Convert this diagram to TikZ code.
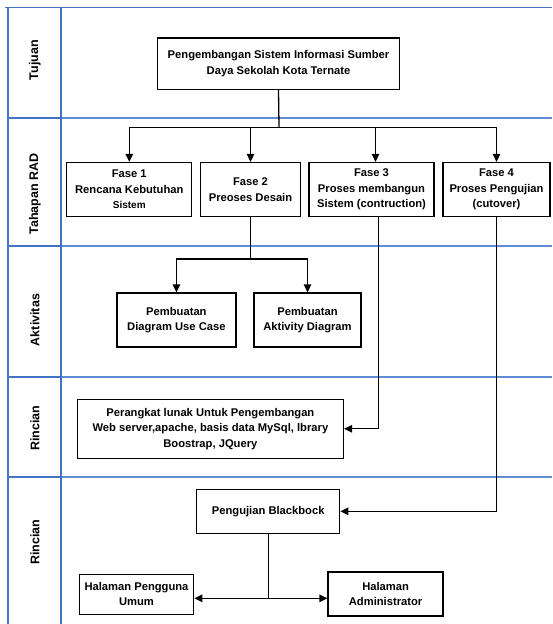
\documentclass[tikz,border=0pt]{standalone}
\usepackage{fontspec}
\setmainfont{Liberation Sans}
\usetikzlibrary{arrows.meta}
\definecolor{lane}{RGB}{68,114,196}
\definecolor{lanelt}{RGB}{96,140,212}
\tikzset{
  box/.style={draw=black, line width=1.3pt, fill=white, align=center, inner sep=0pt,
    font=\fontsize{11.2}{15.5}\selectfont\bfseries},
  conn/.style={draw=black, line width=1.3pt},
  arr/.style={conn, -{Triangle[length=8pt,width=7.5pt]}},
  lanelabel/.style={rotate=90, font=\fontsize{12.5}{14}\selectfont\bfseries, inner sep=0pt},
  laneline/.style={draw=lanelt, line width=1.2pt},
  laneframe/.style={draw=lane, line width=1.8pt},
}
\begin{document}
\begin{tikzpicture}[x=1pt,y=-1pt]
\useasboundingbox (0,0) rectangle (552,624);
\fill[white] (0,0) rectangle (552,624);

% swimlane grid
\foreach \yy in {118,246,377,477} {
  \draw[laneline] (61,\yy) -- (552,\yy);
  \draw[laneframe] (8,\yy) -- (61,\yy);
}
\draw[laneframe] (5,7.5) -- (552,7.5);
\draw[laneframe] (8,7.5) -- (8,624);
\draw[laneframe] (61,7.5) -- (61,624);

% lane titles
\node[lanelabel] (lt1) at (35,60) {Tujuan};
\node[lanelabel] (lt2) at (35,194) {Tahapan RAD};
\node[lanelabel] (lt3) at (35,320) {Aktivitas};
\node[lanelabel] (lt4) at (35,428) {Rincian};
\node[lanelabel] (lt5) at (35,542) {Rincian};

% process boxes
\node[box, minimum width=242pt, minimum height=51.5pt] (goal) at (278.5,63.7)
  {Pengembangan Sistem Informasi Sumber\\Daya Sekolah Kota Ternate};
\node[box, minimum width=125pt, minimum height=54pt] (f1) at (129.3,189.5)
  {Fase 1\\Rencana Kebutuhan\\{\fontsize{10}{12}\selectfont Sistem}};
\node[box, minimum width=100pt, minimum height=54pt] (f2) at (250.5,189.5)
  {Fase 2\\Preoses Desain};
\node[box, minimum width=125pt, minimum height=54pt] (f3) at (371.5,189.5)
  {Fase 3\\Proses membangun\\Sistem (contruction)};
\node[box, minimum width=107pt, minimum height=54pt] (f4) at (496.5,189.5)
  {Fase 4\\Proses Pengujian\\(cutover)};
\node[box, minimum width=119pt, minimum height=54pt] (uc) at (176.4,320)
  {Pembuatan\\Diagram Use Case};
\node[box, minimum width=107pt, minimum height=54pt] (ad) at (307.5,320)
  {Pembuatan\\Aktivity Diagram};
\node[box, minimum width=266pt, minimum height=59pt] (sw) at (210.4,428.8)
  {Perangkat lunak Untuk Pengembangan\\Web server,apache, basis data MySql, lbrary\\Boostrap, JQuery};
\node[box, minimum width=143pt, minimum height=44pt] (bb) at (268.2,511.3)
  {Pengujian Blackbock};
\node[box, minimum width=114.5pt, minimum height=40pt] (hp) at (136.5,594.2)
  {Halaman Pengguna\\Umum};
\node[box, minimum width=115pt, minimum height=44pt] (ha) at (385.6,593.9)
  {Halaman\\Administrator};

% goal to the four phases
\coordinate (j1) at (279,127.3);
\draw[conn] (goal.south) -- (j1);
\draw[arr] (j1) -| (f1.north);
\draw[arr] (j1) -| (f2.north);
\draw[arr] (j1) -| ([xshift=4pt]f3.north);
\draw[arr] (j1) -| (f4.north);

% phase 2 activities
\coordinate (j2) at (250.5,259);
\draw[conn] (f2.south) -- (j2);
\draw[arr] (j2) -| (uc.north);
\draw[arr] (j2) -| (ad.north);

% phase 3 details
\draw[arr] ([xshift=7pt]f3.south) |- (sw.east);

% phase 4 testing
\draw[arr] (f4.south) |- (bb.east);
\coordinate (j3) at (268.2,598.3);
\draw[conn] (bb.south) -- (j3);
\draw[arr] (j3) -- (hp.east |- j3);
\draw[arr] (j3) -- (ha.west |- j3);
\end{tikzpicture}
\end{document}
